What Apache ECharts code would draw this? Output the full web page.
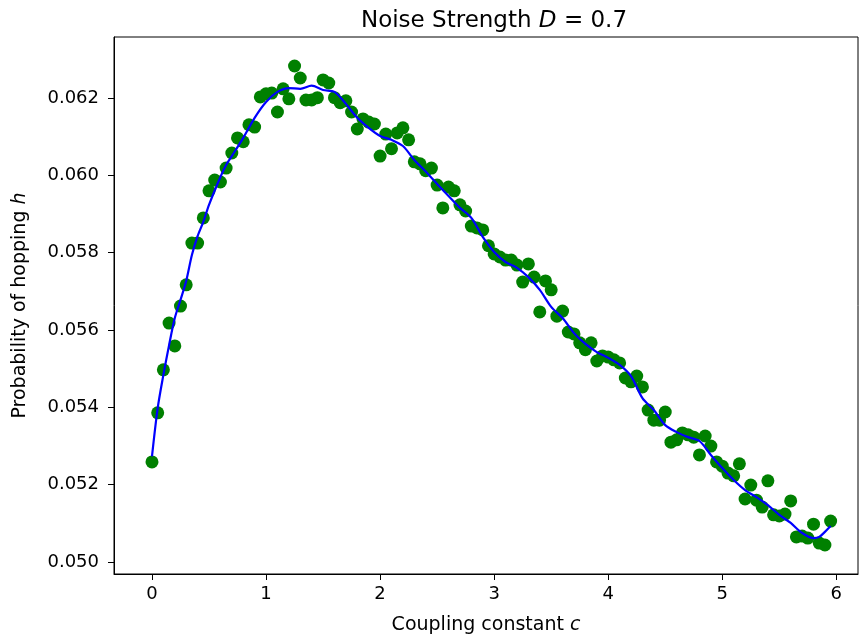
<!DOCTYPE html>
<html>
<head>
<meta charset="utf-8">
<script src="https://cdn.jsdelivr.net/npm/echarts@6/dist/echarts.min.js"></script>
<style>html,body{margin:0;padding:0;background:#fff;}#c{width:860px;height:640px;}</style>
</head>
<body>
<div id="c"></div>
<script>
// Scatter data: coupling constant c (step 0.05) and hopping probability h
const pointX = [];
for (let i = 0; i < 120; i++) pointX.push(+(i * 0.05).toFixed(2));
const pointY = [
0.05259,0.05386,0.05497,0.05618,0.05559,0.05662,0.05717,0.05825,0.05825,0.05890,
0.05960,0.05988,0.05983,0.06019,0.06058,0.06097,0.06087,0.06131,0.06125,0.06203,
0.06211,0.06213,0.06164,0.06224,0.06198,0.06283,0.06252,0.06195,0.06195,0.06201,
0.06247,0.06239,0.06201,0.06188,0.06193,0.06164,0.06120,0.06146,0.06138,0.06133,
0.06050,0.06107,0.06069,0.06110,0.06123,0.06092,0.06035,0.06030,0.06012,0.06019,
0.05975,0.05916,0.05970,0.05960,0.05924,0.05908,0.05869,0.05864,0.05859,0.05818,
0.05797,0.05789,0.05781,0.05781,0.05768,0.05724,0.05771,0.05737,0.05647,0.05727,
0.05704,0.05636,0.05649,0.05595,0.05590,0.05567,0.05549,0.05567,0.05520,0.05533,
0.05530,0.05523,0.05515,0.05476,0.05466,0.05481,0.05453,0.05393,0.05367,0.05367,
0.05388,0.05310,0.05316,0.05334,0.05329,0.05323,0.05277,0.05326,0.05300,0.05259,
0.05248,0.05230,0.05223,0.05254,0.05163,0.05199,0.05160,0.05142,0.05210,0.05122,
0.05119,0.05124,0.05158,0.05065,0.05067,0.05062,0.05098,0.05049,0.05044,0.05106
];
// Smoothed fit curve
const curveX = [0,0.05,0.1,0.15,0.2,0.25,0.3,0.35,0.4,0.45,0.5,0.6,0.65,0.7,0.8,0.9,1.0,1.1,1.2,1.3,1.4,1.5,1.6,1.7,1.8,1.9,2.0,2.1,2.2,2.3,2.4,2.5,2.6,2.7,2.8,2.9,3.0,3.1,3.2,3.3,3.4,3.5,3.6,3.7,3.8,3.9,4.0,4.1,4.2,4.3,4.4,4.5,4.6,4.7,4.8,4.9,5.0,5.1,5.2,5.3,5.4,5.5,5.6,5.7,5.8,5.85,5.9,5.95];
const curveY = [0.05273,0.05398,0.05484,0.05561,0.05631,0.05678,0.05727,0.05794,0.05843,0.05880,0.05924,0.05996,0.06027,0.06050,0.06097,0.06149,0.06190,0.06216,0.06226,0.06224,0.06232,0.06221,0.06216,0.06185,0.06149,0.06123,0.06102,0.06092,0.06076,0.06040,0.06010,0.05978,0.05947,0.05916,0.05890,0.05841,0.05802,0.05776,0.05761,0.05737,0.05704,0.05660,0.05631,0.05592,0.05564,0.05543,0.05528,0.05510,0.05481,0.05424,0.05393,0.05354,0.05336,0.05323,0.05313,0.05277,0.05243,0.05212,0.05186,0.05168,0.05147,0.05122,0.05101,0.05075,0.05062,0.05065,0.05078,0.05093];
const xTicks = [0,1,2,3,4,5,6];
const yTicks = [0.050,0.052,0.054,0.056,0.058,0.060,0.062];

const font = 'DejaVu Sans';
const chart = echarts.init(document.getElementById('c'), null, {renderer:'canvas'});
chart.setOption({
  animation: false,
  backgroundColor: '#fff',
  title: {
    text: '{n|Noise Strength }{i|D}{n| = 0.7}',
    left: 489, top: 5, textAlign: 'center',
    textStyle: { fontWeight: 'normal', rich: {
      n: {fontFamily: font, fontSize: 23, color: '#000', fontWeight: 'normal'},
      i: {fontFamily: font, fontSize: 23, color: '#000', fontStyle: 'italic', fontWeight: 'normal'}
    }}
  },
  grid: { left: 114, right: 2, top: 37, bottom: 66, show: true, borderColor: '#000', borderWidth: 1, containLabel: false },
  xAxis: {
    type: 'value', min: -0.333, max: 6.19,
    name: '{n|Coupling constant }{i|c}', nameLocation: 'middle', nameGap: 42,
    nameTextStyle: { rich: {
      n: {fontFamily: font, fontSize: 19, color: '#000'},
      i: {fontFamily: font, fontSize: 19, color: '#000', fontStyle: 'italic'}
    }},
    splitLine: {show: false},
    axisLine: {onZero: false, lineStyle: {color: '#000', width: 1}},
    axisTick: {show: true, customValues: xTicks, length: 6, lineStyle: {color: '#000'}},
    axisLabel: {customValues: xTicks, fontFamily: font, fontSize: 18, color: '#000', margin: 11,
      formatter: v => String(Math.round(v))}
  },
  yAxis: {
    type: 'value', min: 0.04969, max: 0.06358,
    name: '{n|Probability of hopping }{i|h}', nameLocation: 'middle', nameGap: 84,
    nameTextStyle: { rich: {
      n: {fontFamily: font, fontSize: 19, color: '#000'},
      i: {fontFamily: font, fontSize: 19, color: '#000', fontStyle: 'italic'}
    }},
    splitLine: {show: false},
    axisLine: {show: true, onZero: false, lineStyle: {color: '#000', width: 1}},
    axisTick: {show: true, customValues: yTicks, length: 6, lineStyle: {color: '#000'}},
    axisLabel: {customValues: yTicks, fontFamily: font, fontSize: 18, color: '#000', margin: 15,
      formatter: v => v.toFixed(3)}
  },
  series: [
    {
      type: 'scatter', data: pointX.map((x, i) => [x, pointY[i]]),
      symbol: 'circle', symbolSize: 13, itemStyle: {color: '#008000', opacity: 1}, z: 2
    },
    {
      type: 'line', data: curveX.map((x, i) => [x, curveY[i]]),
      showSymbol: false, smooth: 0.3, lineStyle: {color: '#0000ff', width: 2.2}, z: 3
    }
  ]
});
</script>
</body>
</html>
